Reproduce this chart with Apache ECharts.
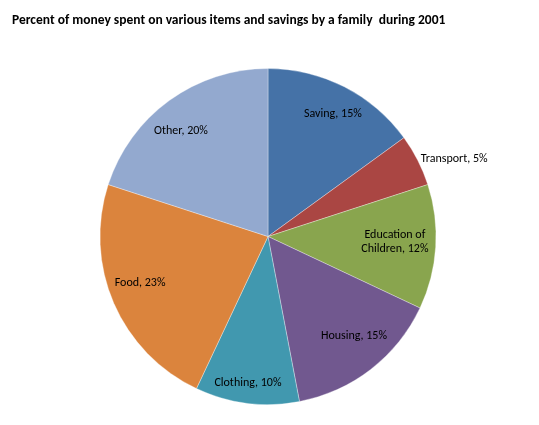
<!DOCTYPE html>
<html>
<head>
<meta charset="utf-8">
<title>Family spending 2001</title>
<script src="https://cdn.jsdelivr.net/npm/echarts@6/dist/echarts.min.js"></script>
<style>
html,body{margin:0;padding:0;background:#fff;}
#main{width:539px;height:425px;}
</style>
</head>
<body>
<div id="main"></div>
<script>
// data
var categories = ["Saving", "Transport", "Education of\nChildren", "Housing", "Clothing", "Food", "Other"];
var values = [15, 5, 12, 15, 10, 23, 20];

// style only (label placement like excel's best fit)
var colors = ["#4572A7", "#AA4643", "#89A54E", "#71588F", "#4198AF", "#DB843D", "#93A9CF"];
var labelRadius = [0.826, 1.02, 0.756, 0.783, 0.88, 0.81, 0.814];
var labelShift = [0.9, 0, -1.1, -3, 0.6, 3.4, -3.5];
var outsideLabel = [false, true, false, false, false, false, false];

var cx = 268, cy = 236.5, R = 168;

var total = values.reduce(function(a, b){ return a + b; }, 0);
var midAngles = [];
var acc = 0;
for (var i = 0; i < values.length; i++) {
	midAngles.push((acc + values[i] / 2) / total * Math.PI * 2);
	acc += values[i];
}

var pieData = categories.map(function(name, i){
	return {name: name, value: values[i], itemStyle: {color: colors[i]}};
});

var myChart = echarts.init(document.getElementById('main'), null, {renderer: 'canvas'});

var option = {
	animation: false,
	title: {
		text: 'Percent of money spent on various items and savings by a family  during 2001',
		left: 7,
		top: 9,
		textStyle: {
			fontFamily: 'Calibri, "Liberation Sans Narrow", "Liberation Sans", sans-serif',
			fontSize: 13.5,
			fontWeight: 'bold',
			color: '#000'
		}
	},
	series: [{
		type: 'pie',
		center: [cx, cy],
		radius: R,
		startAngle: 90,
		clockwise: true,
		data: pieData,
		itemStyle: {
			borderColor: 'rgba(255,255,255,0.55)',
			borderWidth: 0.6
		},
		label: {
			show: true,
			position: 'inside',
			formatter: function(p){ return p.name + ', ' + p.value + '%'; },
			fontFamily: 'Calibri, "Liberation Sans", sans-serif',
			fontSize: 12,
			lineHeight: 14,
			color: '#000',
			align: 'center'
		},
		labelLine: {show: false},
		labelLayout: function(params){
			var i = params.dataIndex;
			var a = midAngles[i] + labelShift[i] * Math.PI / 180;
			var r = R * labelRadius[i];
			var x = cx + r * Math.sin(a);
			var y = cy - r * Math.cos(a);
			return {
				x: x,
				y: y,
				align: outsideLabel[i] ? 'left' : 'center',
				verticalAlign: 'middle'
			};
		},
		emphasis: {disabled: true}
	}]
};

myChart.setOption(option);
</script>
</body>
</html>
